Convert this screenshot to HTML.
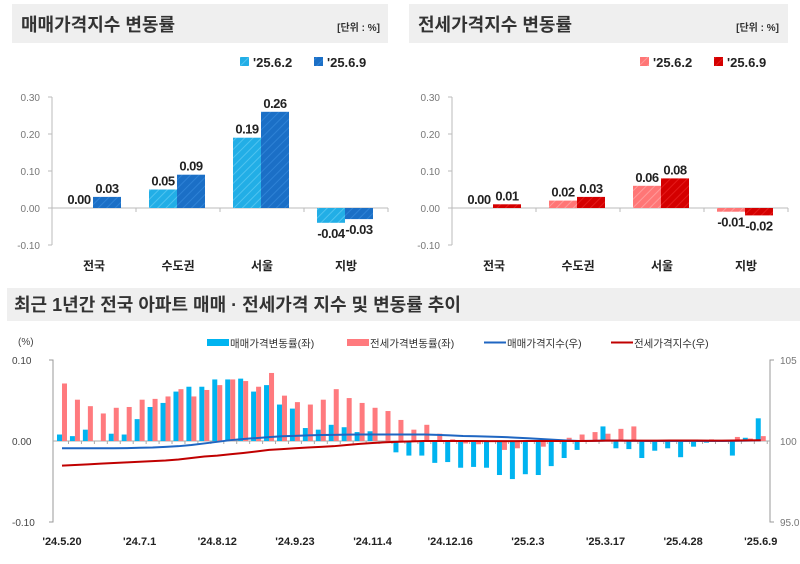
<!DOCTYPE html>
<html><head><meta charset="utf-8">
<style>
html,body{margin:0;padding:0;background:#fff;}
svg{display:block;font-family:"Liberation Sans","Noto Sans CJK KR",sans-serif;}
</style></head>
<body>
<svg id="root" width="800" height="564" viewBox="0 0 800 564" xmlns="http://www.w3.org/2000/svg">
<defs>
<pattern id="hatchBlue" patternUnits="userSpaceOnUse" width="6" height="6" patternTransform="rotate(45)">
<rect width="6" height="6" fill="#22aee6"/><line x1="0" y1="0" x2="0" y2="6" stroke="#4fc3f0" stroke-width="2"/></pattern>
<pattern id="hatchDBlue" patternUnits="userSpaceOnUse" width="6" height="6" patternTransform="rotate(45)">
<rect width="6" height="6" fill="#1b6fc6"/><line x1="0" y1="0" x2="0" y2="6" stroke="#2e82d6" stroke-width="2"/></pattern>
<pattern id="hatchRed" patternUnits="userSpaceOnUse" width="6" height="6" patternTransform="rotate(45)">
<rect width="6" height="6" fill="#ff7676"/><line x1="0" y1="0" x2="0" y2="6" stroke="#ff9a9a" stroke-width="2"/></pattern>
<pattern id="hatchDRed" patternUnits="userSpaceOnUse" width="6" height="6" patternTransform="rotate(45)">
<rect width="6" height="6" fill="#d40000"/><line x1="0" y1="0" x2="0" y2="6" stroke="#e41a1a" stroke-width="2"/></pattern>
</defs>
<g>
<rect x="12" y="4" width="376" height="39" fill="#efefef"/>
<text x="21" y="31" font-size="18" font-weight="bold" fill="#333">매매가격지수 변동률</text>
<text x="380" y="31" font-size="10" font-weight="bold" fill="#333" text-anchor="end">[단위 : %]</text>
<g id="salesChart"></g>
</g>
<g>
<rect x="409" y="4" width="379" height="39" fill="#efefef"/>
<text x="418" y="31" font-size="18" font-weight="bold" fill="#333">전세가격지수 변동률</text>
<text x="779" y="31" font-size="10" font-weight="bold" fill="#333" text-anchor="end">[단위 : %]</text>
<g id="jeonseChart"></g>
</g>
<g>
<rect x="7" y="288" width="793" height="33" fill="#efefef"/>
<text x="14" y="311" font-size="18" font-weight="bold" fill="#333">최근 1년간 전국 아파트 매매 · 전세가격 지수 및 변동률 추이</text>
<g id="trendChart"></g>
</g>
</svg>
<script>
const NS="http://www.w3.org/2000/svg";
function mk(parent,tag,attrs,text){const e=document.createElementNS(NS,tag);for(const k in attrs)e.setAttribute(k,attrs[k]);if(text!==undefined)e.textContent=text;parent.appendChild(e);return e;}

// ---- top charts data ----
const regions=["전국","수도권","서울","지방"];
const salesPrev=[0.00,0.05,0.19,-0.04];
const salesCurr=[0.03,0.09,0.26,-0.03];
const jeonsePrev=[0.00,0.02,0.06,-0.01];
const jeonseCurr=[0.01,0.03,0.08,-0.02];
const topTicks=[0.30,0.20,0.10,0.00,-0.10];
const legendLabels=["'25.6.2","'25.6.9"];

function drawTop(gid,ox,prev,curr,fills,prefix){
  const g=document.getElementById(gid);
  const x0=ox+52, gw=84;
  const y=v=>208-v*370;
  topTicks.forEach(t=>{
    const tl=mk(g,"text",{x:ox+40,y:y(t)+4,"font-size":10,fill:"#777","text-anchor":"end"},t.toFixed(2));
    
    
    const tk=mk(g,"line",{x1:x0-4,x2:x0,y1:y(t),y2:y(t),stroke:"#bbb"});
    
    
  });
  const ax=mk(g,"line",{x1:x0,x2:x0,y1:y(0.30),y2:y(-0.10),stroke:"#bbb"});
  
  
  const zl=mk(g,"line",{x1:x0,x2:x0+gw*regions.length,y1:y(0),y2:y(0),stroke:"#bbb"});
  
  
  regions.forEach((r,i)=>{
    const gs=x0+gw*i;
    const tk=mk(g,"line",{x1:gs+gw,x2:gs+gw,y1:y(0),y2:y(0)+4,stroke:"#bbb"});
    
    
    [[prev[i],gs+13,fills[0]],[curr[i],gs+41,fills[1]]].forEach(([v,bx,f],k)=>{
      const top=Math.min(y(v),y(0)),h=Math.abs(y(v)-y(0));
      if(h>0){
        const b=mk(g,"rect",{x:bx,y:top,width:28,height:h,fill:f});
        
        
      }
      const ly=v>=0?y(v)-4:y(v)+15;
      const lb=mk(g,"text",{x:bx+14,y:ly,"font-size":13,"font-weight":"bold",fill:"#222","text-anchor":"middle","letter-spacing":"-0.5"},v<0?"-"+Math.abs(v).toFixed(2):v.toFixed(2));
      
      
    });
    const cl=mk(g,"text",{x:gs+gw/2,y:270,"font-size":12,"font-weight":"bold",fill:"#222","text-anchor":"middle"},r);
    
    
  });
  legendLabels.forEach((l,k)=>{
    const lx=ox+240+k*74;
    const sw=mk(g,"rect",{x:lx,y:57,width:9,height:9,fill:fills[k]});
    
    
    const lt=mk(g,"text",{x:lx+13,y:67,"font-size":13,"font-weight":"bold",fill:"#222"},l);
    
    
  });
}
drawTop("salesChart",0,salesPrev,salesCurr,["url(#hatchBlue)","url(#hatchDBlue)"],"sales");
drawTop("jeonseChart",400,jeonsePrev,jeonseCurr,["url(#hatchRed)","url(#hatchDRed)"],"jeonse");

// ---- trend chart data ----
const salesRate=[0.008,0.006,0.014,0.000,0.009,0.008,0.027,0.042,0.047,0.061,0.067,0.067,0.076,0.076,0.077,0.061,0.069,0.045,0.040,0.016,0.014,0.020,0.017,0.011,0.012,0.000,-0.014,-0.018,-0.018,-0.027,-0.026,-0.033,-0.032,-0.033,-0.042,-0.047,-0.041,-0.042,-0.031,-0.021,-0.011,0.001,0.018,-0.009,-0.010,-0.021,-0.012,-0.009,-0.020,-0.007,-0.002,0.000,-0.018,0.004,0.028];
const jeonseRate=[0.071,0.051,0.043,0.034,0.041,0.042,0.051,0.052,0.055,0.064,0.055,0.063,0.069,0.076,0.074,0.067,0.084,0.056,0.048,0.045,0.051,0.064,0.053,0.047,0.041,0.037,0.026,0.014,0.020,0.009,0.002,-0.003,-0.004,0.000,-0.011,-0.009,0.000,-0.007,0.000,0.004,0.008,0.011,0.009,0.015,0.018,0.000,0.001,0.000,0.000,0.001,0.002,-0.001,0.005,0.003,0.006];
const salesIndex=[99.55,99.55,99.55,99.55,99.55,99.56,99.58,99.60,99.64,99.68,99.75,99.85,99.95,100.05,100.12,100.18,100.24,100.29,100.32,100.35,100.37,100.38,100.39,100.40,100.40,100.40,100.40,100.40,100.40,100.38,100.35,100.31,100.29,100.27,100.25,100.21,100.17,100.12,100.08,100.03,100.00,100.01,100.02,100.02,100.01,100.00,100.00,100.00,100.00,100.00,100.00,100.00,100.01,100.02,100.04];
const jeonseIndex=[98.48,98.52,98.56,98.60,98.64,98.68,98.72,98.76,98.80,98.86,98.95,99.04,99.10,99.18,99.26,99.35,99.45,99.50,99.55,99.60,99.64,99.68,99.75,99.82,99.88,99.92,99.95,99.98,100.00,100.00,100.00,100.00,100.00,99.99,99.99,99.99,100.00,100.00,100.00,100.00,100.00,100.01,100.02,100.02,100.02,100.02,100.02,100.03,100.03,100.03,100.02,100.02,100.03,100.04,100.05];
const xLabels=["'24.5.20","'24.7.1","'24.8.12","'24.9.23","'24.11.4","'24.12.16","'25.2.3","'25.3.17","'25.4.28","'25.6.9"];
const xLabelIdx=[0,6,12,18,24,30,36,42,48,54];
const leftTicks=[0.10,0.00,-0.10];
const rightTicks=["105","100","95.0"];
const rightTickVals=[105,100,95];
const trendLegend=["매매가격변동률(좌)","전세가격변동률(좌)","매매가격지수(우)","전세가격지수(우)"];

(function(){
  const g=document.getElementById("trendChart");
  const yL=v=>441-v*810;
  const yR=v=>441-(v-100)*16.2;
  const xC=i=>62+i*12.94;
  const axL=mk(g,"path",{d:"M49 360 H53 V522 H49",fill:"none",stroke:"#999"});
  
  
  const axR=mk(g,"path",{d:"M774 360 H770 V522 H774",fill:"none",stroke:"#999"});
  
  
  leftTicks.forEach(t=>{
    const tl=mk(g,"text",{x:12,y:yL(t)+4,"font-size":10,fill:"#444"},t.toFixed(2));
    
    
  });
  rightTickVals.forEach((t,k)=>{
    const tl=mk(g,"text",{x:780,y:yR(t)+4,"font-size":10,fill:"#777"},rightTicks[k]);
    
    
  });
  const pu=mk(g,"text",{x:18,y:345,"font-size":10,fill:"#444"},"(%)");
  
  
  const zl=mk(g,"line",{x1:53,x2:770,y1:yL(0),y2:yL(0),stroke:"#aaa"});
  
  
  salesRate.forEach((v,i)=>{
    const tk=mk(g,"line",{x1:xC(i)+6.5,x2:xC(i)+6.5,y1:yL(0),y2:yL(0)+3,stroke:"#aaa"});
    
    
    const b=mk(g,"rect",{x:xC(i)-5,y:Math.min(yL(v),yL(0)),width:5,height:Math.abs(yL(v)-yL(0)),fill:"#00b4f0"});
    
    
    const r=jeonseRate[i];
    const b2=mk(g,"rect",{x:xC(i),y:Math.min(yL(r),yL(0)),width:5,height:Math.abs(yL(r)-yL(0)),fill:"#ff7a7e"});
    
    
  });
  const l1=mk(g,"polyline",{points:salesIndex.map((v,i)=>xC(i)+","+yR(v)).join(" "),fill:"none",stroke:"#1f66c2","stroke-width":2});
  
  
  const l2=mk(g,"polyline",{points:jeonseIndex.map((v,i)=>xC(i)+","+yR(v)).join(" "),fill:"none",stroke:"#c00000","stroke-width":2});
  
  
  xLabelIdx.forEach((idx,k)=>{
    const t=mk(g,"text",{x:xC(idx),y:545,"font-size":11,"font-weight":"bold",fill:"#222","text-anchor":"middle"},xLabels[k]);
    
    
  });
  const lx=[207,347,484,611];
  const lc=["#00b4f0","#ff7a7e","#1f66c2","#c00000"];
  trendLegend.forEach((l,k)=>{
    let s;
    if(k<2) s=mk(g,"rect",{x:lx[k],y:339,width:22,height:7,fill:lc[k]});
    else s=mk(g,"line",{x1:lx[k],x2:lx[k]+22,y1:342.5,y2:342.5,stroke:lc[k],"stroke-width":2});
    
    
    const t=mk(g,"text",{x:lx[k]+23,y:347,"font-size":10.5,fill:"#333"},l);
    
    
  });
})();
</script>
</body></html>
